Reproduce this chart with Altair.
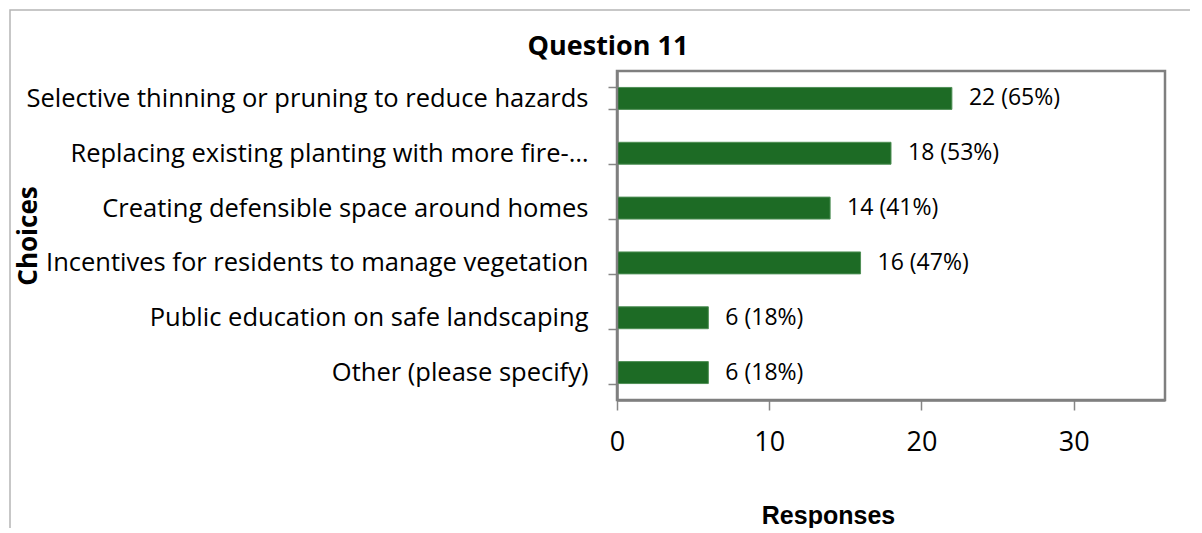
import altair as alt
import pandas as pd

choices = [
    "Selective thinning or pruning to reduce hazards",
    "Replacing existing planting with more fire-…",
    "Creating defensible space around homes",
    "Incentives for residents to manage vegetation",
    "Public education on safe landscaping",
    "Other (please specify)",
]
responses = [22, 18, 14, 16, 6, 6]
percents = [65, 53, 41, 47, 18, 18]
x_ticks = [0, 10, 20, 30]

df = pd.DataFrame({"choice": choices, "responses": responses, "pct": percents})
df["label"] = [f"{r} ({p}%)" for r, p in zip(responses, percents)]

W, H = 548, 329
GRAY = "#868686"
BORDER = "#7f7f7f"
GREEN = "#1D6B25"

y_enc = alt.Y(
    "choice:N",
    sort=choices,
    scale=alt.Scale(paddingInner=0.6, paddingOuter=0.3),
    axis=alt.Axis(
        title="Choices",
        titleFont="Open Sans", titleFontSize=26, titleFontWeight="bold", titleColor="black",
        titleAngle=270, titleX=-589, titleY=H / 2, titleAlign="center", titleBaseline="middle",
        labelFont="Open Sans", labelFontSize=25.5, labelColor="black", labelPadding=20, labelLimit=800,
        tickBand="extent", tickSize=9, tickColor=GRAY, tickWidth=1.5,
        domainColor=BORDER, domainWidth=2.5,
    ),
)
x_enc = alt.X(
    "responses:Q",
    scale=alt.Scale(domain=[0, 36], nice=False, zero=True),
    axis=alt.Axis(
        values=x_ticks, grid=False,
        title="Responses",
        titleFont="Liberation Sans", titleFontSize=25, titleFontWeight="bold", titleColor="black",
        titleX=211, titleY=115, titleAlign="center", titleBaseline="middle",
        labelFont="Open Sans", labelFontSize=27, labelColor="black", labelPadding=19,
        labelFlush=False,
        tickSize=10, tickColor=GRAY, tickWidth=1.5,
        domainColor=BORDER, domainWidth=2.5,
    ),
)

base = alt.Chart(df)
bars = base.mark_bar(color=GREEN, stroke="#4f8f55", strokeWidth=1).encode(x=x_enc, y=y_enc)
labels = base.mark_text(
    align="left", baseline="middle", dx=17, font="Open Sans", fontSize=23, color="black"
).encode(x=alt.X("responses:Q"), y=alt.Y("choice:N", sort=choices), text="label:N")

one = pd.DataFrame({"a": [0]})
frame = alt.Chart(one).mark_rect(
    filled=False, stroke="#b5b5b5", strokeWidth=1.5
).encode(
    x=alt.value(-607), x2=alt.value(W + 80), y=alt.value(-61), y2=alt.value(H + 200)
)
plot_border = alt.Chart(one).mark_rect(
    filled=False, stroke=BORDER, strokeWidth=2.5
).encode(
    x=alt.value(0), x2=alt.value(W), y=alt.value(0), y2=alt.value(H)
)

chart = alt.layer(frame, bars, labels, plot_border).properties(
    width=W,
    height=H,
    title=alt.TitleParams(
        "Question 11", font="Open Sans", fontSize=27, fontWeight="bold", color="black",
        anchor="middle", dx=-283, dy=73, offset=0, baseline="alphabetic",
    ),
    autosize=alt.AutoSizeParams(type="none"),
    padding={"left": 609, "top": 63, "right": 25, "bottom": 128},
).configure_view(stroke=None).configure(background="white")

chart.save("out.html", embed_options={"renderer": "svg", "actions": False})
